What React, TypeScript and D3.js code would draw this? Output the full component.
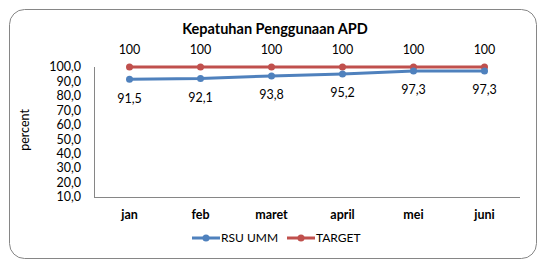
import React from "react";
import * as d3 from "d3";

const categories = ["jan", "feb", "maret", "april", "mei", "juni"];
const rsuValues = [91.5, 92.1, 93.8, 95.2, 97.3, 97.3];
const targetValues = [100, 100, 100, 100, 100, 100];
const yTicks = [10, 20, 30, 40, 50, 60, 70, 80, 90, 100];

const W = 550;
const H = 272;
const FONT = "Lato, 'Open Sans', sans-serif";
const BLUE = "#4F81BD";
const RED = "#C0504D";

export default function App() {
  const left = 94;
  const right = 520;
  const top = 67;
  const bottom = 197;
  const x = d3.scaleBand<string>().domain(categories).range([left, right]);
  const y = d3.scaleLinear().domain([10, 100]).range([bottom, top]);
  const cx = (c: string) => (x(c) as number) + x.bandwidth() / 2;
  const line = d3
    .line<number>()
    .x((_, i) => cx(categories[i]))
    .y((d) => y(d));
  const fmt = (v: number) => v.toFixed(1).replace(".", ",");

  return (
    <svg
      width={W}
      height={H}
      style={{ position: "absolute", left: 0, top: 0 }}
      fontFamily={FONT}
    >
      <rect x={0} y={0} width={W} height={H} fill="#fff" />
      <rect
        x={9.5}
        y={9.5}
        width={527}
        height={249}
        rx={15}
        ry={15}
        fill="#fff"
        stroke="#868686"
        strokeWidth={1}
      />
      <text
        x={275}
        y={34}
        textAnchor="middle"
        fontSize={14.5}
        fontWeight="bold"
        fill="#000"
      >
        Kepatuhan Penggunaan APD
      </text>
      {/* axes */}
      <line x1={left + 0.5} x2={left + 0.5} y1={top} y2={bottom} stroke="#868686" />
      <line x1={left} x2={right} y1={bottom + 0.5} y2={bottom + 0.5} stroke="#868686" />
      {yTicks.map((t) => (
        <text
          key={t}
          x={81}
          y={y(t)}
          dy="0.35em"
          textAnchor="end"
          fontSize={12.5}
          fill="#000"
        >
          {fmt(t)}
        </text>
      ))}
      <text
        transform={`translate(29,130) rotate(-90)`}
        textAnchor="middle"
        fontSize={12.5}
        fill="#000"
      >
        percent
      </text>
      {categories.map((c) => (
        <text
          key={c}
          x={cx(c)}
          y={215}
          dy="0.35em"
          textAnchor="middle"
          fontSize={12.5}
          fontWeight="bold"
          fill="#000"
        >
          {c}
        </text>
      ))}
      {/* series */}
      <path d={line(targetValues) || ""} fill="none" stroke={RED} strokeWidth={3} />
      <path d={line(rsuValues) || ""} fill="none" stroke={BLUE} strokeWidth={3} />
      {targetValues.map((v, i) => (
        <circle key={"t" + i} cx={cx(categories[i])} cy={y(v)} r={3.5} fill={RED} />
      ))}
      {rsuValues.map((v, i) => (
        <circle key={"r" + i} cx={cx(categories[i])} cy={y(v)} r={3.5} fill={BLUE} />
      ))}
      {targetValues.map((v, i) => (
        <text
          key={"tl" + i}
          x={cx(categories[i])}
          y={y(v) - 17}
          dy="0.35em"
          textAnchor="middle"
          fontSize={12.5}
          fill="#000"
        >
          {String(v)}
        </text>
      ))}
      {rsuValues.map((v, i) => (
        <text
          key={"rl" + i}
          x={cx(categories[i])}
          y={y(v) + 19}
          dy="0.35em"
          textAnchor="middle"
          fontSize={12.5}
          fill="#000"
        >
          {fmt(v)}
        </text>
      ))}
      {/* legend */}
      <line x1={192} x2={220} y1={238} y2={238} stroke={BLUE} strokeWidth={3} />
      <circle cx={206} cy={238} r={3.5} fill={BLUE} />
      <text x={221} y={238} dy="0.35em" fontSize={12} fill="#000">
        RSU UMM
      </text>
      <line x1={287} x2={315} y1={238} y2={238} stroke={RED} strokeWidth={3} />
      <circle cx={301} cy={238} r={3.5} fill={RED} />
      <text x={316} y={238} dy="0.35em" fontSize={12} fill="#000">
        TARGET
      </text>
    </svg>
  );
}
